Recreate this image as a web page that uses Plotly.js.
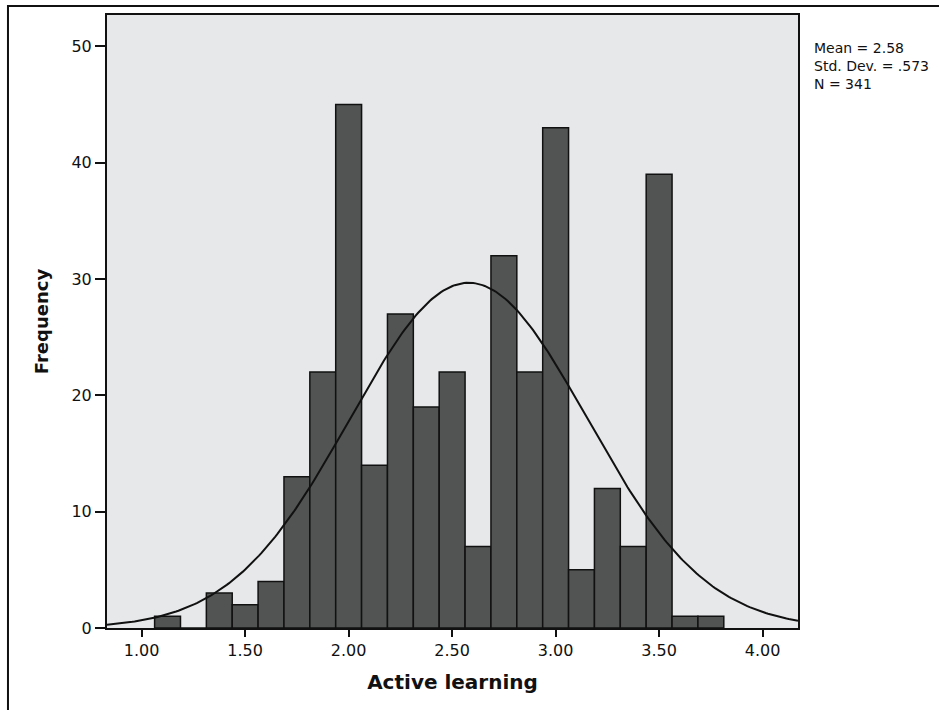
<!DOCTYPE html>
<html>
<head>
<meta charset="utf-8">
<script src="https://cdn.plot.ly/plotly-3.0.1.min.js"></script>
<style>
  html, body { margin: 0; padding: 0; background: #ffffff; }
  #chart { width: 939px; height: 710px; }
</style>
</head>
<body>
<div id="chart"></div>
<script>
// Histogram bins (centres) and frequencies
const binCenters = [1.125, 1.25, 1.375, 1.5, 1.625, 1.75, 1.875, 2.0, 2.125, 2.25, 2.375, 2.5, 2.625, 2.75, 2.875, 3.0, 3.125, 3.25, 3.375, 3.5, 3.625, 3.75];
const frequencies = [1, 0, 3, 2, 4, 13, 22, 45, 14, 27, 19, 22, 7, 32, 22, 43, 5, 12, 7, 39, 1, 1];
const binWidth = 0.125;

// Summary statistics shown in the chart
const statMean = 2.58;
const statSD = 0.573;
const statN = 341;
const statLabels = ["Mean = 2.58", "Std. Dev. = .573", "N = 341"];

// Axis ticks
const xTicks = [1.0, 1.5, 2.0, 2.5, 3.0, 3.5, 4.0];
const xTickLabels = ["1.00", "1.50", "2.00", "2.50", "3.00", "3.50", "4.00"];
const yTicks = [0, 10, 20, 30, 40, 50];

const xRange = [0.8325, 4.171];
const yRange = [0, 52.7];

// Fitted normal curve from the displayed statistics (as SPSS draws it)
const curveX = [];
const curveY = [];
const nPts = 300;
const scale = statN * binWidth / (statSD * Math.sqrt(2 * Math.PI));
for (let i = 0; i <= nPts; i++) {
  const x = xRange[0] + (xRange[1] - xRange[0]) * i / nPts;
  const z = (x - statMean) / statSD;
  curveX.push(x);
  curveY.push(scale * Math.exp(-0.5 * z * z));
}

const bars = {
  type: 'bar',
  x: binCenters,
  y: frequencies,
  width: binWidth,
  marker: { color: '#525454', line: { color: '#111111', width: 1.5 } },
  hoverinfo: 'x+y',
  showlegend: false
};

const curve = {
  type: 'scatter',
  mode: 'lines',
  x: curveX,
  y: curveY,
  line: { color: '#111111', width: 2 },
  hoverinfo: 'skip',
  showlegend: false
};

const annotations = [{
  xref: 'paper', yref: 'paper',
  x: 1.0203, y: 0.962,
  xanchor: 'left', yanchor: 'top', align: 'left',
  text: statLabels.join('<br>'), showarrow: false,
  font: { family: 'DejaVu Sans, Arial, sans-serif', size: 14, color: '#111111' }
}];

const layout = {
  width: 939,
  height: 710,
  margin: { l: 107, r: 141, t: 15, b: 82, pad: 0 },
  paper_bgcolor: '#ffffff',
  plot_bgcolor: '#e6e8ea',
  bargap: 0,
  font: { family: 'DejaVu Sans, Arial, sans-serif', color: '#111111' },
  xaxis: {
    range: xRange,
    tickvals: xTicks,
    ticktext: xTickLabels,
    ticks: 'outside',
    ticklen: 7,
    tickwidth: 2,
    tickcolor: '#111111',
    showline: true,
    linecolor: '#111111',
    linewidth: 2,
    mirror: true,
    showgrid: false,
    zeroline: false,
    tickfont: { family: 'DejaVu Sans, Arial, sans-serif', size: 16, color: '#111111' },
    title: { text: 'Active learning', standoff: 16,
      font: { family: 'DejaVu Sans, Arial, sans-serif', size: 20, color: '#111111', weight: 'bold' } }
  },
  yaxis: {
    range: yRange,
    tickvals: yTicks,
    ticks: 'outside',
    ticklen: 10,
    tickwidth: 2,
    tickcolor: '#111111',
    showline: true,
    linecolor: '#111111',
    linewidth: 2,
    mirror: true,
    showgrid: false,
    zeroline: false,
    tickfont: { family: 'DejaVu Sans, Arial, sans-serif', size: 16, color: '#111111' },
    title: { text: 'Frequency', standoff: 18,
      font: { family: 'DejaVu Sans, Arial, sans-serif', size: 18, color: '#111111', weight: 'bold' } }
  },
  shapes: [{
    type: 'rect', xref: 'paper', yref: 'paper',
    x0: -0.1433, x1: 1.6, y0: -0.5, y1: 1.0147,
    line: { color: '#111111', width: 2 },
    fillcolor: 'rgba(0,0,0,0)',
    layer: 'below'
  }],
  annotations: annotations
};

Plotly.newPlot('chart', [bars, curve], layout, { displayModeBar: false, staticPlot: true });
</script>
</body>
</html>
